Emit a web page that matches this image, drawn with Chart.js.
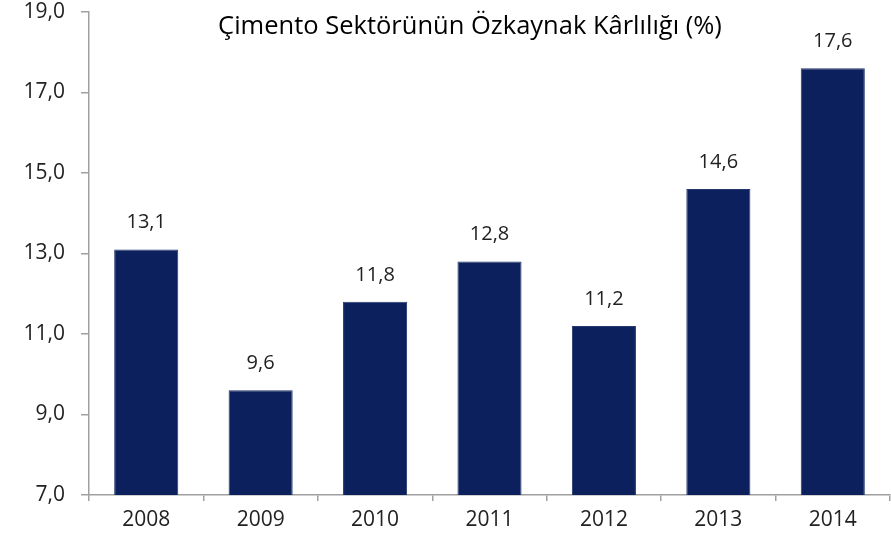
<!DOCTYPE html>
<html>
<head>
<meta charset="utf-8">
<script src="https://cdn.jsdelivr.net/npm/chart.js@4/dist/chart.umd.min.js"></script>
<style>
  html, body { margin: 0; padding: 0; background: #fff; }
  #wrap { width: 891px; height: 545px; }
</style>
</head>
<body>
<div id="wrap"><canvas id="bar-chart"></canvas></div>
<script>
var years = ['2008', '2009', '2010', '2011', '2012', '2013', '2014'];
var roe = [13.1, 9.6, 11.8, 12.8, 11.2, 14.6, 17.6];
var chartTitle = 'Çimento Sektörünün Özkaynak Kârlılığı (%)';

function fmt(v) {
  return v.toFixed(1).replace('.', ',');
}

// title sits inside the plot area, so draw it by hand
var insideTitle = {
  id: 'insideTitle',
  afterDraw: function(chart) {
    var ctx = chart.ctx;
    ctx.save();
    ctx.font = '25.5px "Open Sans", sans-serif';
    ctx.fillStyle = '#000';
    ctx.textAlign = 'center';
    ctx.textBaseline = 'middle';
    ctx.fillText(chartTitle, 470, 27);
    ctx.restore();
  }
};

var valueLabels = {
  id: 'valueLabels',
  afterDatasetsDraw: function(chart) {
    var ctx = chart.ctx;
    var meta = chart.getDatasetMeta(0);
    ctx.save();
    ctx.font = '20px "Open Sans", sans-serif';
    ctx.fillStyle = '#222';
    ctx.textAlign = 'center';
    ctx.textBaseline = 'middle';
    meta.data.forEach(function(bar, i) {
      ctx.fillText(fmt(roe[i]), bar.x, bar.y - 27);
    });
    ctx.restore();
  }
};

var ctx = document.getElementById('bar-chart').getContext('2d');
var chart = new Chart(ctx, {
  type: 'bar',
  data: {
    labels: years,
    datasets: [{
      data: roe,
      backgroundColor: '#0b205d',
      borderColor: '#24386f',
      borderWidth: 1,
      barPercentage: 0.56,
      categoryPercentage: 1.0
    }]
  },
  options: {
    responsive: true,
    maintainAspectRatio: false,
    animation: false,
    layout: { padding: { top: 12, right: 1, left: 0, bottom: 0 } },
    plugins: {
      legend: { display: false },
      tooltip: { enabled: false }
    },
    scales: {
      x: {
        grid: {
          offset: true,
          drawOnChartArea: false,
          color: '#a0a0a0',
          tickLength: 6,
          lineWidth: 1.5
        },
        border: { color: '#a0a0a0', width: 1.5 },
        ticks: {
          color: '#222',
          font: { family: '"Open Sans", sans-serif', size: 21 },
          padding: 6
        },
        afterFit: function(scale) { scale.height = 50; }
      },
      y: {
        min: 7,
        max: 19,
        grid: {
          drawOnChartArea: false,
          color: '#a0a0a0',
          tickLength: 8,
          lineWidth: 1.5
        },
        border: { color: '#a0a0a0', width: 1.5 },
        ticks: {
          stepSize: 2,
          color: '#222',
          font: { family: '"Open Sans", sans-serif', size: 21 },
          padding: 16,
          callback: function(v) { return fmt(v); }
        },
        afterFit: function(scale) {
          scale.width = 89;
          scale.paddingTop = 0;
          scale.paddingBottom = 0;
        }
      }
    }
  },
  plugins: [insideTitle, valueLabels]
});
</script>
</body>
</html>
